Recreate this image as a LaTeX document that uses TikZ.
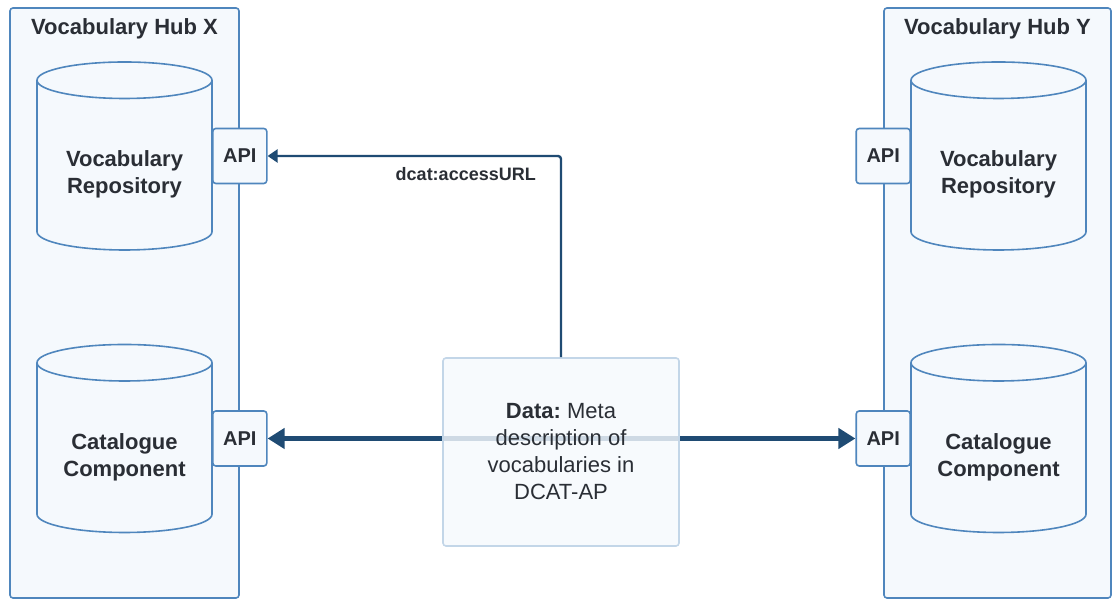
\documentclass[tikz,border=0pt]{standalone}
\usepackage{fontspec}
\setmainfont{Liberation Sans}
\usetikzlibrary{arrows.meta, positioning, shapes.geometric}

\definecolor{hubfill}{HTML}{F5F9FD}
\definecolor{hubline}{HTML}{4F86BD}
\definecolor{databorder}{HTML}{C3D6E8}
\definecolor{flowline}{HTML}{1F4B73}
\definecolor{ink}{HTML}{2A2E35}

\begin{document}
\begin{tikzpicture}[x=1pt, y=1pt,
    node distance=10pt,
    >={Triangle[length=10pt,width=13pt]},
    hub/.style={draw=hubline, line width=1.6pt, fill=hubfill, rounded corners=3pt,
        minimum width=229pt, minimum height=590pt},
    hubtitle/.style={text=ink, font=\fontsize{22}{27}\selectfont\bfseries},
    store/.style={cylinder, shape border rotate=90, aspect=0.3, anchor=shape center,
        text width=115pt, draw=hubline, line width=1.6pt, fill=hubfill,
        minimum width=175pt, minimum height=188pt},
    storetext/.style={align=center, text=ink, font=\fontsize{22}{27}\selectfont\bfseries},
    api/.style={draw=hubline, line width=1.6pt, fill=hubfill, rounded corners=3pt,
        minimum width=54pt, minimum height=55pt, inner sep=0pt,
        text=ink, font=\fontsize{20}{24}\selectfont\bfseries},
    databox/.style={draw=databorder, line width=1.6pt, fill=hubfill, fill opacity=0.82,
        text opacity=1, rounded corners=3pt, minimum width=236pt, minimum height=188pt,
        align=center, text=ink, font=\fontsize{22}{27}\selectfont},
    flow/.style={draw=flowline, line width=2.4pt},
    bigflow/.style={draw=flowline, line width=5.5pt,
        {Triangle[length=17pt,width=20pt]}-{Triangle[length=17pt,width=20pt]}}]

    \useasboundingbox (0,0) rectangle (1112,601);

    % hubs
    \node[hub] (hubX) at (124.5,298) {};
    \node[hub, minimum width=227pt] (hubY) at (997.5,298) {};
    \node[hubtitle] (titleX) at ([yshift=-22pt]hubX.north) {Vocabulary Hub X};
    \node[hubtitle] (titleY) at ([yshift=-22pt]hubY.north) {Vocabulary Hub Y};

    % stores
    \node[store] (repoX) at (124.5,445) {};
    \node[store] (catX)  at (124.5,162.5) {};
    \node[store] (repoY) at (998.5,445) {};
    \node[store] (catY)  at (998.5,162.5) {};
    \node[storetext] (repoXtext) at ([yshift=-18pt]repoX.shape center) {Vocabulary\\Repository};
    \node[storetext] (catXtext)  at ([yshift=-19pt]catX.shape center)  {Catalogue\\Component};
    \node[storetext] (repoYtext) at ([yshift=-18pt]repoY.shape center) {Vocabulary\\Repository};
    \node[storetext] (catYtext)  at ([yshift=-19pt]catY.shape center)  {Catalogue\\Component};

    % interfaces
    \node[api] (apiXr) at (hubX.east |- repoX.shape center) {API};
    \node[api] (apiXc) at (hubX.east |- catX.shape center)  {API};
    \node[api] (apiYr) at (hubY.west |- repoY.shape center) {API};
    \node[api] (apiYc) at (hubY.west |- catY.shape center)  {API};

    \path[bigflow] (apiXc.east) -- (apiYc.west);

    \node[databox] (data) at (561,149) {\textbf{Data:}\ Meta\\description of\\vocabularies in\\DCAT-AP};

    \path[flow, ->, rounded corners=3pt]
    (data.north) |- node[pos=0.5, anchor=north east, inner sep=0pt, xshift=-24pt, yshift=-10pt,
        text=ink, font=\fontsize{18}{22}\selectfont\bfseries] {dcat:accessURL} (apiXr.east);
\end{tikzpicture}
\end{document}
